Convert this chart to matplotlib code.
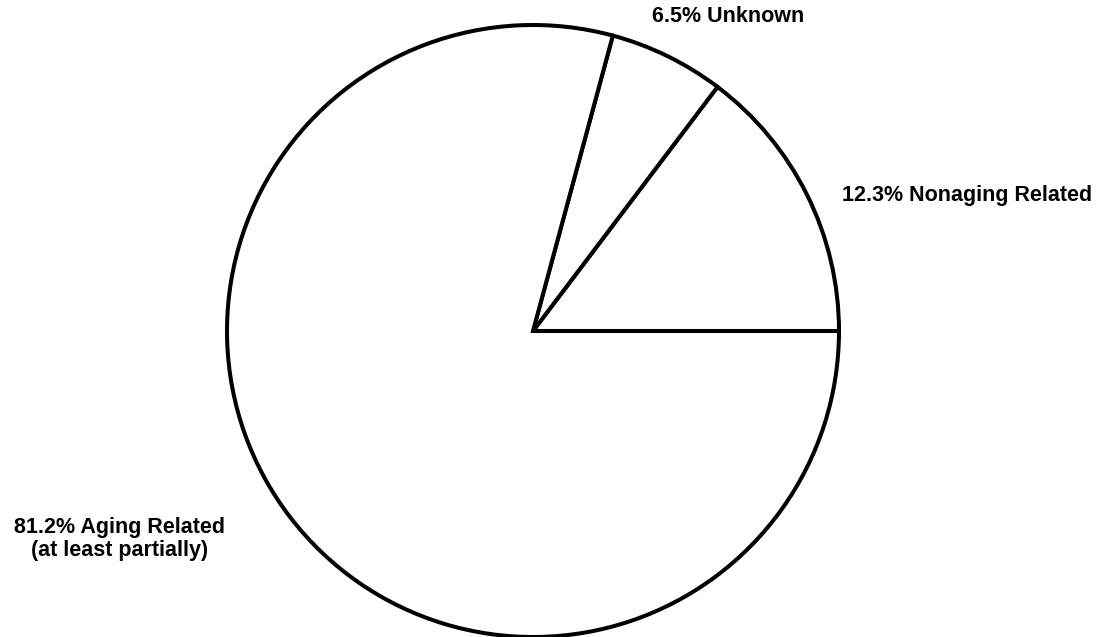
import matplotlib
matplotlib.use("Agg")
import matplotlib.pyplot as plt

# Data
categories = ["Nonaging Related", "Unknown", "Aging Related\n(at least partially)"]
label_pcts = [12.3, 6.5, 81.2]
# wedge shares as drawn in the picture (measured from the slice angles)
drawn_shares = [14.7, 6.1, 79.2]

W, H = 1103, 637
fig = plt.figure(figsize=(W / 100, H / 100), dpi=100)
ax = fig.add_axes([0, 0, 1, 1])

cx, cy, r = 533, H - 331, 306
ax.pie(drawn_shares, startangle=0, counterclock=True, center=(cx, cy), radius=r,
       colors=["white"] * 3,
       wedgeprops=dict(edgecolor="black", linewidth=2.9, joinstyle="miter"),
       frame=True)
ax.set_xlim(0, W)
ax.set_ylim(0, H)
ax.set_aspect("equal")
ax.axis("off")

font = dict(family="Liberation Sans", weight="bold", fontsize=15.5, color="black")
ax.text(652, H - 16, f"{label_pcts[1]}% {categories[1]}", ha="left", va="center", **font)
ax.text(842, H - 196, f"{label_pcts[0]}% {categories[0]}", ha="left", va="center", **font)
ax.text(120, H - 539, f"{label_pcts[2]}% {categories[2]}", ha="center", va="center",
        linespacing=1.1, **font)

fig.savefig("out.png", dpi=100)
